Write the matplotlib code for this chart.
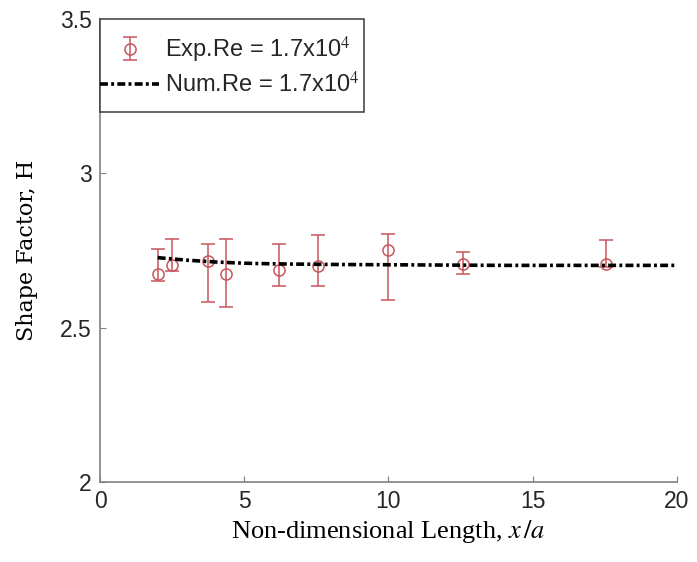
import matplotlib
matplotlib.use("Agg")
import matplotlib.pyplot as plt
from matplotlib.patches import Rectangle
import numpy as np

# experimental data, Re = 1.7x10^4
exp_x = [2.02, 2.48, 3.76, 4.36, 6.2, 7.57, 9.99, 12.6, 17.56]
exp_h = [2.675, 2.703, 2.716, 2.673, 2.686, 2.700, 2.751, 2.705, 2.705]
exp_hi = [2.754, 2.786, 2.772, 2.789, 2.770, 2.799, 2.805, 2.746, 2.784]
exp_lo = [2.652, 2.684, 2.582, 2.566, 2.635, 2.635, 2.590, 2.673, 2.697]

# numerical result
num_x = [2, 3, 4, 5, 6, 8, 10, 12, 14, 16, 18, 20]
num_h = [2.727, 2.719, 2.713, 2.709, 2.707, 2.705, 2.704, 2.703, 2.702, 2.702, 2.702, 2.702]

xticks = [0, 5, 10, 15, 20]
yticks = [2, 2.5, 3, 3.5]
ytick_labels = ["2", "2.5", "3", "3.5"]
legend_labels = [r'Exp.Re = 1.7x10$^4$', r'Num.Re = 1.7x10$^4$']


def main():
	plt.rcParams['font.family'] = ['Liberation Sans', 'DejaVu Sans']
	plt.rcParams['mathtext.fontset'] = 'stix'
	fig = plt.figure(figsize=(6.97, 5.62), dpi=100)
	ax = fig.add_axes([0.1435, 0.1423, 0.8275, 0.8237])

	red = '#c8555c'
	h = np.array(exp_h)
	yerr = [h - np.array(exp_lo), np.array(exp_hi) - h]
	eb = ax.errorbar(exp_x, exp_h, yerr=yerr, fmt='o', mfc='none', mec=red, ms=8,
		mew=1.1, ecolor=red, elinewidth=1.1, capsize=5, capthick=1.1, zorder=2)
	ln, = ax.plot(num_x, num_h, color='black', ls='-.', lw=2.6, zorder=3)
	ln.set_dashes((2.2, 0.9, 0.8, 0.9))

	ax.set_xlim(0, 20)
	ax.set_ylim(2, 3.5)
	ax.set_xticks(xticks)
	ax.set_yticks(yticks)
	ax.set_yticklabels(ytick_labels)
	ax.tick_params(direction='in', length=4, width=0.8, colors='#808080',
		labelcolor='#262626', labelsize=16.5, pad=6)
	for s in ['top', 'right']:
		ax.spines[s].set_visible(False)
	for s in ['left', 'bottom']:
		ax.spines[s].set_color('#808080')
		ax.spines[s].set_linewidth(1.2)

	ax.set_xlabel(r'Non-dimensional Length, $x\,/a$', family='Liberation Serif',
		fontsize=19, labelpad=3)
	ax.set_ylabel('Shape Factor, H', family='DejaVu Serif', fontsize=16, labelpad=16)

	# legend box drawn separately (MATLAB style tight box)
	box = Rectangle((0, 0.799), 0.4575, 0.201, transform=ax.transAxes,
		facecolor='white', edgecolor='#3a3a3a', lw=1.1, zorder=4, clip_on=False)
	ax.add_patch(box)
	leg = ax.legend([eb, ln], legend_labels,
		loc='center left', bbox_to_anchor=(0.0, 0.8995), borderaxespad=0,
		frameon=False, fontsize=17, handlelength=2.5,
		handletextpad=0.25, borderpad=0.0, labelspacing=0.3)
	leg.set_zorder(5)
	for t in leg.get_texts():
		t.set_color('#262626')

	fig.savefig('out.png', dpi=100)


if __name__ == '__main__':
	main()
